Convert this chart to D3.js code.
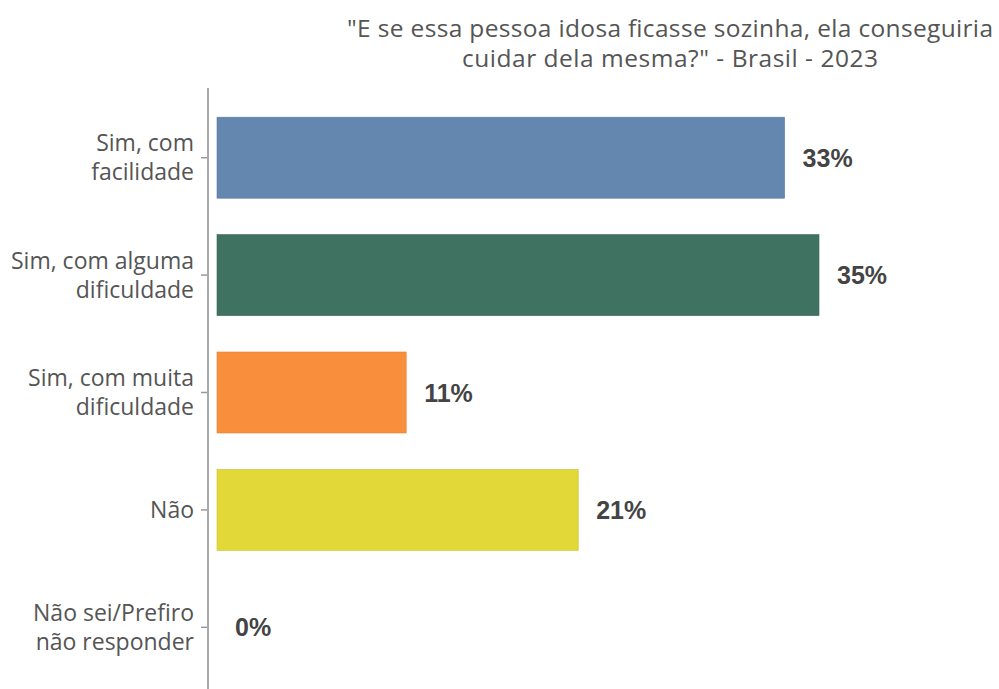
<!DOCTYPE html>
<html>
<head>
<meta charset="utf-8">
<script src="https://cdn.jsdelivr.net/npm/d3@7"></script>
<style>
  body { margin: 0; background: #fff; }
  svg { display: block; }
</style>
</head>
<body>
<div id="chart"></div>
<script>
// data
var categories = [
  ["Sim, com", "facilidade"],
  ["Sim, com alguma", "dificuldade"],
  ["Sim, com muita", "dificuldade"],
  ["Não"],
  ["Não sei/Prefiro", "não responder"]
];
var values = [33, 35, 11, 21, 0];
var colors = ["#6487b0", "#3f7260", "#f98f3c", "#e2d838", "#999999"];
var titleLines = ["\"E se essa pessoa idosa ficasse sozinha, ela conseguiria", "cuidar dela mesma?\" - Brasil - 2023"];

var svgWidth = 999;
var svgHeight = 689;

var svg = d3.select("#chart").append("svg")
  .attr("width", svgWidth)
  .attr("height", svgHeight);

var keys = categories.map(function (d, i) { return i; });

// scales
var x = d3.scaleLinear().domain([0, 35]).range([217, 819]);
var y = d3.scaleBand().domain(keys).range([99, 686]).paddingInner(0.31).paddingOuter(0.155);

// title
svg.append("text")
  .attr("x", 670)
  .attr("y", 37)
  .attr("text-anchor", "middle")
  .style("font-family", "'Open Sans', sans-serif")
  .style("font-size", "24.5px")
  .style("fill", "#555")
  .selectAll("tspan")
  .data(titleLines)
  .enter().append("tspan")
  .attr("x", 670)
  .attr("dy", function (d, i) { return i === 0 ? 0 : 30; })
  .attr("textLength", function (d, i) { return i === 0 ? 646 : 416; })
  .text(function (d) { return d; });

// bars
svg.selectAll("rect.bar")
  .data(values)
  .enter().append("rect")
  .attr("class", "bar")
  .attr("x", x(0))
  .attr("y", function (d, i) { return y(i); })
  .attr("width", function (d) { return x(d) - x(0); })
  .attr("height", y.bandwidth())
  .attr("fill", function (d, i) { return colors[i]; })
  .attr("stroke", function (d, i) { return d3.color(colors[i]).darker(0.3); })
  .attr("stroke-width", 0.6);

// value labels
svg.selectAll("text.val")
  .data(values)
  .enter().append("text")
  .attr("class", "val")
  .attr("x", function (d) { return x(d) + 18; })
  .attr("y", function (d, i) { return y(i) + y.bandwidth() / 2 + 9; })
  .style("font-family", "'Liberation Sans', Arial, sans-serif")
  .style("font-weight", "bold")
  .style("font-size", "25px")
  .style("fill", "#444")
  .text(function (d) { return d + "%"; });

// axis
var leftAxis = d3.axisLeft(y).tickSize(7).tickFormat("");
var axisG = svg.append("g")
  .attr("transform", "translate(208,0)")
  .call(leftAxis);
axisG.select(".domain").remove();
axisG.selectAll(".tick line").attr("stroke", "#999").attr("stroke-width", 1.5);

svg.append("line")
  .attr("x1", 208).attr("x2", 208)
  .attr("y1", 88).attr("y2", 689)
  .attr("stroke", "#aaa")
  .attr("stroke-width", 2);

// category labels
var labels = svg.selectAll("text.cat")
  .data(categories)
  .enter().append("text")
  .attr("class", "cat")
  .attr("text-anchor", "end")
  .style("font-family", "'Open Sans', sans-serif")
  .style("font-size", "23px")
  .style("fill", "#555")
  .attr("transform", function (d, i) {
    var cy = y(i) + y.bandwidth() / 2;
    var top = cy - (d.length - 1) * 14.5 + 8;
    return "translate(194," + top + ")";
  });

labels.selectAll("tspan")
  .data(function (d) { return d; })
  .enter().append("tspan")
  .attr("x", 0)
  .attr("dy", function (d, i) { return i === 0 ? 0 : 29; })
  .text(function (d) { return d; });
</script>
</body>
</html>
